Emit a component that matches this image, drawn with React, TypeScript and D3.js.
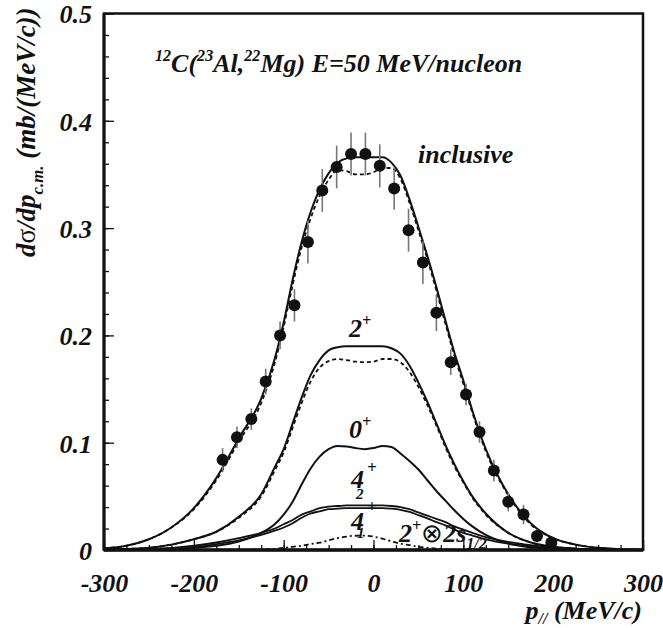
import React, { useRef, useEffect } from 'react';
import * as d3 from 'd3';

// momentum grid (MeV/c) shared by the calculated curves
const pGrid = [-300, -275, -250, -225, -200, -175, -150, -125, -110, -100, -90, -80, -70, -60, -50, -40, -30, -20, -10, 0, 10, 20, 30, 40, 50, 60, 70, 80, 90, 100, 110, 125, 150, 175, 200, 225, 250, 275, 300];

const inclusiveSolid = [0.0015, 0.004, 0.010, 0.021, 0.039, 0.067, 0.104, 0.141, 0.178, 0.212, 0.252, 0.287, 0.315, 0.336, 0.351, 0.361, 0.365, 0.366, 0.366, 0.366, 0.366, 0.361, 0.349, 0.327, 0.301, 0.274, 0.245, 0.214, 0.184, 0.158, 0.130, 0.094, 0.052, 0.025, 0.011, 0.005, 0.002, 0.0008, 0.0003];
const inclusiveDashed = [0.0015, 0.004, 0.010, 0.021, 0.038, 0.065, 0.101, 0.137, 0.174, 0.208, 0.247, 0.282, 0.309, 0.330, 0.345, 0.354, 0.353, 0.350, 0.350, 0.352, 0.356, 0.356, 0.346, 0.324, 0.298, 0.271, 0.242, 0.211, 0.181, 0.155, 0.128, 0.092, 0.051, 0.024, 0.011, 0.005, 0.002, 0.0008, 0.0003];
const twoPlusSolid = [0.0003, 0.001, 0.002, 0.005, 0.010, 0.017, 0.031, 0.052, 0.077, 0.094, 0.118, 0.142, 0.163, 0.177, 0.186, 0.189, 0.190, 0.190, 0.190, 0.190, 0.190, 0.188, 0.183, 0.172, 0.156, 0.138, 0.118, 0.098, 0.080, 0.064, 0.050, 0.034, 0.016, 0.007, 0.003, 0.0012, 0.0005, 0.0002, 0.0001];
const twoPlusDashed = [0.0003, 0.001, 0.002, 0.005, 0.010, 0.017, 0.030, 0.050, 0.074, 0.091, 0.114, 0.137, 0.157, 0.170, 0.176, 0.178, 0.177, 0.1755, 0.175, 0.1755, 0.178, 0.178, 0.175, 0.166, 0.152, 0.135, 0.116, 0.096, 0.078, 0.063, 0.049, 0.033, 0.016, 0.007, 0.003, 0.0012, 0.0005, 0.0002, 0.0001];
const zeroPlus = [0, 0.0002, 0.0005, 0.001, 0.002, 0.004, 0.008, 0.016, 0.024, 0.033, 0.045, 0.061, 0.076, 0.087, 0.094, 0.097, 0.0965, 0.095, 0.094, 0.095, 0.097, 0.096, 0.090, 0.083, 0.075, 0.065, 0.055, 0.046, 0.037, 0.029, 0.022, 0.014, 0.006, 0.0025, 0.001, 0.0004, 0.0002, 0.0001, 0];
const fourPlus2 = [0.0002, 0.0005, 0.001, 0.002, 0.004, 0.007, 0.011, 0.016, 0.020, 0.024, 0.028, 0.033, 0.036, 0.039, 0.0405, 0.041, 0.0415, 0.0415, 0.0415, 0.0415, 0.0415, 0.041, 0.040, 0.038, 0.035, 0.032, 0.029, 0.026, 0.022, 0.019, 0.016, 0.012, 0.0075, 0.0045, 0.0025, 0.0013, 0.0006, 0.0003, 0.0001];
const fourPlus1 = [0.0001, 0.0003, 0.0007, 0.0015, 0.003, 0.0055, 0.009, 0.014, 0.018, 0.021, 0.025, 0.030, 0.034, 0.036, 0.038, 0.0385, 0.039, 0.039, 0.039, 0.039, 0.039, 0.0385, 0.0375, 0.0355, 0.0325, 0.0295, 0.026, 0.023, 0.019, 0.016, 0.0135, 0.010, 0.006, 0.0035, 0.002, 0.001, 0.0005, 0.0002, 0.0001];
const twoPlusS12 = [0, 0, 0, 0, 0, 0, 0, 0.0005, 0.001, 0.002, 0.003, 0.004, 0.0055, 0.0068, 0.009, 0.011, 0.0125, 0.0133, 0.0134, 0.0125, 0.0105, 0.008, 0.006, 0.0045, 0.003, 0.002, 0.0012, 0.0006, 0.0002, 0, 0, 0, 0, 0, 0, 0, 0, 0, 0];

// measured points
const dataP = [-168, -152, -136, -120, -104, -88, -73, -57, -41, -25, -9, 7, 23, 39, 55, 70, 86, 103, 118, 134, 150, 167, 182, 198];
const dataV = [0.084, 0.105, 0.122, 0.157, 0.200, 0.228, 0.287, 0.335, 0.357, 0.369, 0.369, 0.358, 0.337, 0.298, 0.268, 0.221, 0.175, 0.145, 0.110, 0.074, 0.045, 0.033, 0.013, 0.007];
const dataErr = [0.011, 0.01, 0.01, 0.012, 0.013, 0.015, 0.02, 0.02, 0.02, 0.02, 0.02, 0.02, 0.02, 0.02, 0.02, 0.017, 0.012, 0.01, 0.01, 0.01, 0.009, 0.009, 0.006, 0.004];

const xTicks = [-300, -200, -100, 0, 100, 200, 300];
const yTicks = [0, 0.1, 0.2, 0.3, 0.4, 0.5];
const yTickLabels = ['0', '0.1', '0.2', '0.3', '0.4', '0.5'];

const W = 663;
const H = 628;
const FONT = '"Liberation Serif", "Times New Roman", serif';

type Seg = { t: string; s?: 'sup' | 'sub'; plain?: boolean; shift?: number };

// writes a rich text line with super/subscripts
function rich(sel: any, segs: Seg[], size: number) {
  let shift = 0;
  segs.forEach((sg) => {
    const target = sg.shift ?? (sg.s === 'sup' ? -size * 0.42 : sg.s === 'sub' ? size * 0.28 : 0);
    const ts = sel.append('tspan')
      .attr('dy', target - shift)
      .attr('font-size', sg.s ? size * 0.62 : size)
      .text(sg.t);
    if (sg.plain) ts.attr('font-weight', 'normal').attr('font-style', 'normal');
    shift = target;
  });
}

export default function App() {
  const svgRef = useRef<SVGSVGElement>(null);

  useEffect(() => {
    const svg = d3.select(svgRef.current);
    svg.selectAll('*').remove();

    const x = d3.scaleLinear().domain([-300, 300]).range([104, 643]);
    const y = d3.scaleLinear().domain([0, 0.5]).range([550, 13.5]);

    const g = svg.append('g')
      .attr('font-family', FONT)
      .attr('font-weight', 'bold')
      .attr('font-style', 'italic');

    // minor ticks
    g.append('g')
      .attr('transform', `translate(0,${y(0)})`)
      .call(d3.axisBottom(x).tickValues(d3.range(-300, 301, 25)).tickSizeInner(-5).tickSizeOuter(0).tickFormat(() => ''))
      .call((a: any) => a.select('.domain').remove());
    g.append('g')
      .attr('transform', `translate(${x(-300)},0)`)
      .call(d3.axisLeft(y).tickValues(d3.range(0, 0.501, 0.02)).tickSizeInner(-5).tickSizeOuter(0).tickFormat(() => ''))
      .call((a: any) => a.select('.domain').remove());

    // major ticks + labels
    const xa = g.append('g')
      .attr('transform', `translate(0,${y(0)})`)
      .call(d3.axisBottom(x).tickValues(xTicks).tickSizeInner(-10).tickSizeOuter(0).tickFormat((d: any) => String(d)));
    xa.select('.domain').remove();
    xa.selectAll('text')
      .attr('y', 42).attr('dy', null)
      .attr('font-size', 26).attr('font-family', FONT).attr('fill', '#111');

    const ya = g.append('g')
      .attr('transform', `translate(${x(-300)},0)`)
      .call(d3.axisLeft(y).tickValues(yTicks).tickSizeInner(-10).tickSizeOuter(0).tickFormat((d: any, i: number) => yTickLabels[i]));
    ya.select('.domain').remove();
    ya.selectAll('text')
      .attr('x', -12).attr('dy', '0.36em')
      .attr('font-size', 26).attr('font-family', FONT).attr('fill', '#111');

    g.selectAll('.tick line').attr('stroke', '#111').attr('stroke-width', 1.3);

    // frame
    g.append('rect')
      .attr('x', x(-300)).attr('y', y(0.5))
      .attr('width', x(300) - x(-300)).attr('height', y(0) - y(0.5))
      .attr('fill', 'none').attr('stroke', '#111').attr('stroke-width', 2.5);
    g.append('line').attr('x1', x(-300)).attr('x2', x(300)).attr('y1', y(0)).attr('y2', y(0))
      .attr('stroke', '#111').attr('stroke-width', 3.5);
    g.append('line').attr('x1', x(-300)).attr('x2', x(-300)).attr('y1', y(0.5)).attr('y2', y(0))
      .attr('stroke', '#111').attr('stroke-width', 3);

    // curves
    const line = d3.line<number>()
      .x((_, i) => x(pGrid[i]))
      .y((d) => y(d))
      .curve(d3.curveMonotoneX);

    const curves: [number[], string | null, number][] = [
      [inclusiveSolid, null, 2],
      [inclusiveDashed, '4,3', 1.8],
      [twoPlusSolid, null, 2],
      [twoPlusDashed, '4,3', 1.8],
      [zeroPlus, null, 2],
      [fourPlus2, null, 1.8],
      [fourPlus1, null, 1.8],
      [twoPlusS12, '2,3,5,3', 1.8],
    ];
    curves.forEach(([vals, dash, w]) => {
      g.append('path')
        .datum(vals)
        .attr('d', line)
        .attr('fill', 'none')
        .attr('stroke', '#111')
        .attr('stroke-width', w)
        .attr('stroke-dasharray', dash);
    });

    // data points
    const pts = g.append('g');
    pts.selectAll('line')
      .data(dataP)
      .join('line')
      .attr('x1', (d) => x(d)).attr('x2', (d) => x(d))
      .attr('y1', (d, i) => y(dataV[i] - dataErr[i]))
      .attr('y2', (d, i) => y(dataV[i] + dataErr[i]))
      .attr('stroke', '#777').attr('stroke-width', 1.6);
    pts.selectAll('circle')
      .data(dataP)
      .join('circle')
      .attr('cx', (d) => x(d))
      .attr('cy', (d, i) => y(dataV[i]))
      .attr('r', 6)
      .attr('fill', '#111');

    // texts
    const txt = (tx: number, ty: number, segs: Seg[], size = 26, anchor = 'start') => {
      const t = g.append('text').attr('x', tx).attr('y', ty).attr('text-anchor', anchor).attr('fill', '#111');
      rich(t, segs, size);
      return t;
    };

    txt(155, 72, [{ t: '12', s: 'sup' }, { t: 'C(' }, { t: '23', s: 'sup' }, { t: 'Al,' }, { t: '22', s: 'sup' }, { t: 'Mg) E=50 MeV/nucleon' }]);
    txt(418, 163, [{ t: 'inclusive' }]);
    txt(349, 337, [{ t: '2' }, { t: '+', s: 'sup' }]);
    txt(349, 438, [{ t: '0' }, { t: '+', s: 'sup' }]);

    // stacked 4+ labels: glyph, superscript and subscript in one text each
    const stacked = (bx: number, by: number, sup: [number, number], sub: [number, number], subText: string) => {
      const t = g.append('text').attr('fill', '#111');
      t.append('tspan').attr('x', bx).attr('y', by).attr('font-size', 26).text('4');
      t.append('tspan').attr('x', sup[0]).attr('y', sup[1]).attr('font-size', 17).text('+');
      t.append('tspan').attr('x', sub[0]).attr('y', sub[1]).attr('font-size', 15).text(subText);
    };
    stacked(351, 488, [367, 473], [356, 499], '2');
    stacked(351, 530, [367, 512], [357, 538], '1');

    txt(399, 542, [{ t: '2' }, { t: '+', s: 'sup' }, { t: '⊗', plain: true }, { t: '2s' }, { t: '1/2', s: 'sub' }]);

    // axis titles
    txt(642, 619, [{ t: 'p' }, { t: '//', s: 'sub', shift: 5 }, { t: ' (MeV/c)' }], 26, 'end');
    const yt = g.append('text')
      .attr('transform', 'translate(35,257) rotate(-90)')
      .attr('fill', '#111');
    rich(yt, [{ t: 'd' }, { t: 'σ', plain: true }, { t: '/dp' }, { t: 'c.m.', s: 'sub' }, { t: ' (mb/(MeV/c))' }], 27);
  }, []);

  return (
    <div style={{ position: 'absolute', left: 0, top: 0, width: W, height: H, background: '#fff' }}>
      <svg ref={svgRef} width={W} height={H} />
    </div>
  );
}
